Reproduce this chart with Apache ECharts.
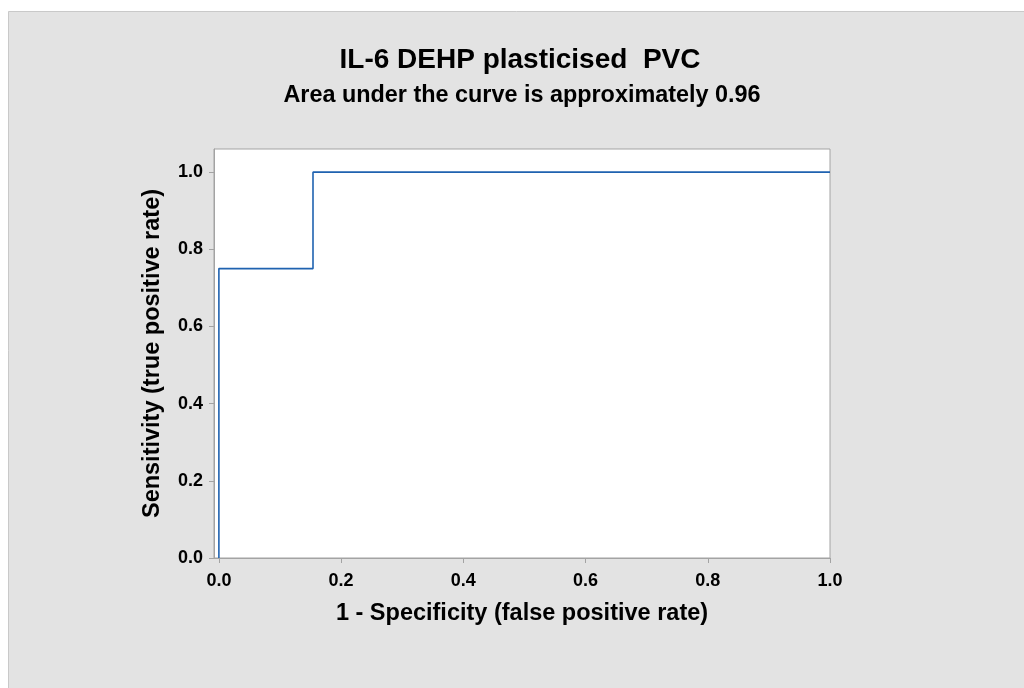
<!DOCTYPE html>
<html>
<head>
<meta charset="utf-8">
<script src="https://cdn.jsdelivr.net/npm/echarts@6/dist/echarts.min.js"></script>
<style>
html,body{margin:0;padding:0;background:#fff;}
#chart{width:1024px;height:688px;}
</style>
</head>
<body>
<div id="chart"></div>
<script>
// ROC curve data (step function)
var fpr = [0, 0, 0.154, 0.154, 1.0];
var tpr = [0, 0.75, 0.75, 1.0, 1.0];
var xTicks = [0, 0.2, 0.4, 0.6, 0.8, 1.0];
var yTicks = [0, 0.2, 0.4, 0.6, 0.8, 1.0];
var titleText = 'IL-6 DEHP plasticised  PVC';
var subtitleText = 'Area under the curve is approximately 0.96';
var xName = '1 - Specificity (false positive rate)';
var yName = 'Sensitivity (true positive rate)';

var pts = fpr.map(function (x, i) { return [x, tpr[i]]; });
var FONT = '"Liberation Sans", Arial, sans-serif';

var chart = echarts.init(document.getElementById('chart'), null, {renderer: 'canvas'});
chart.setOption({
  backgroundColor: '#ffffff',
  animation: false,
  graphic: [{
    type: 'rect', z: -10, silent: true,
    shape: {x: 8.5, y: 11.5, width: 1030, height: 700},
    style: {fill: '#e3e3e3', stroke: '#c9c9c9', lineWidth: 1}
  }],
  title: [{
    text: titleText, left: 515, top: 41, textAlign: 'center',
    textStyle: {fontFamily: FONT, fontWeight: 'bold', fontSize: 28, color: '#000'}
  }, {
    text: subtitleText, left: 517, top: 79, textAlign: 'center',
    textStyle: {fontFamily: FONT, fontWeight: 'bold', fontSize: 23.4, color: '#000'}
  }],
  grid: {
    left: 214, top: 149, right: 194, bottom: 130,
    show: true, backgroundColor: '#ffffff', borderColor: '#a3a3a3', borderWidth: 1
  },
  xAxis: {
    type: 'value', min: -0.008, max: 1.0,
    name: xName, nameLocation: 'middle', nameGap: 44,
    nameTextStyle: {fontFamily: FONT, fontWeight: 'bold', fontSize: 23.5, color: '#000'},
    axisLine: {show: true, onZero: false, lineStyle: {color: '#a3a3a3', width: 1}},
    axisTick: {show: true, length: 5, customValues: xTicks, lineStyle: {color: '#a3a3a3'}},
    axisLabel: {customValues: xTicks, margin: 14, fontFamily: FONT, fontWeight: 'bold', fontSize: 18, color: '#000',
      formatter: function (v) { return v.toFixed(1); }},
    splitLine: {show: false}
  },
  yAxis: {
    type: 'value', min: 0, max: 1.06,
    name: yName, nameLocation: 'middle', nameGap: 49,
    nameTextStyle: {fontFamily: FONT, fontWeight: 'bold', fontSize: 23.5, color: '#000'},
    axisLine: {show: true, onZero: false, lineStyle: {color: '#a3a3a3', width: 1}},
    axisTick: {show: true, length: 5, customValues: yTicks, lineStyle: {color: '#a3a3a3'}},
    axisLabel: {customValues: yTicks, margin: 11, fontFamily: FONT, fontWeight: 'bold', fontSize: 18, color: '#000',
      formatter: function (v) { return v.toFixed(1); }},
    splitLine: {show: false}
  },
  series: [{
    type: 'line', data: pts, showSymbol: false, symbol: 'none',
    lineStyle: {color: '#1f62b0', width: 1.6}, clip: true
  }]
});
</script>
</body>
</html>
